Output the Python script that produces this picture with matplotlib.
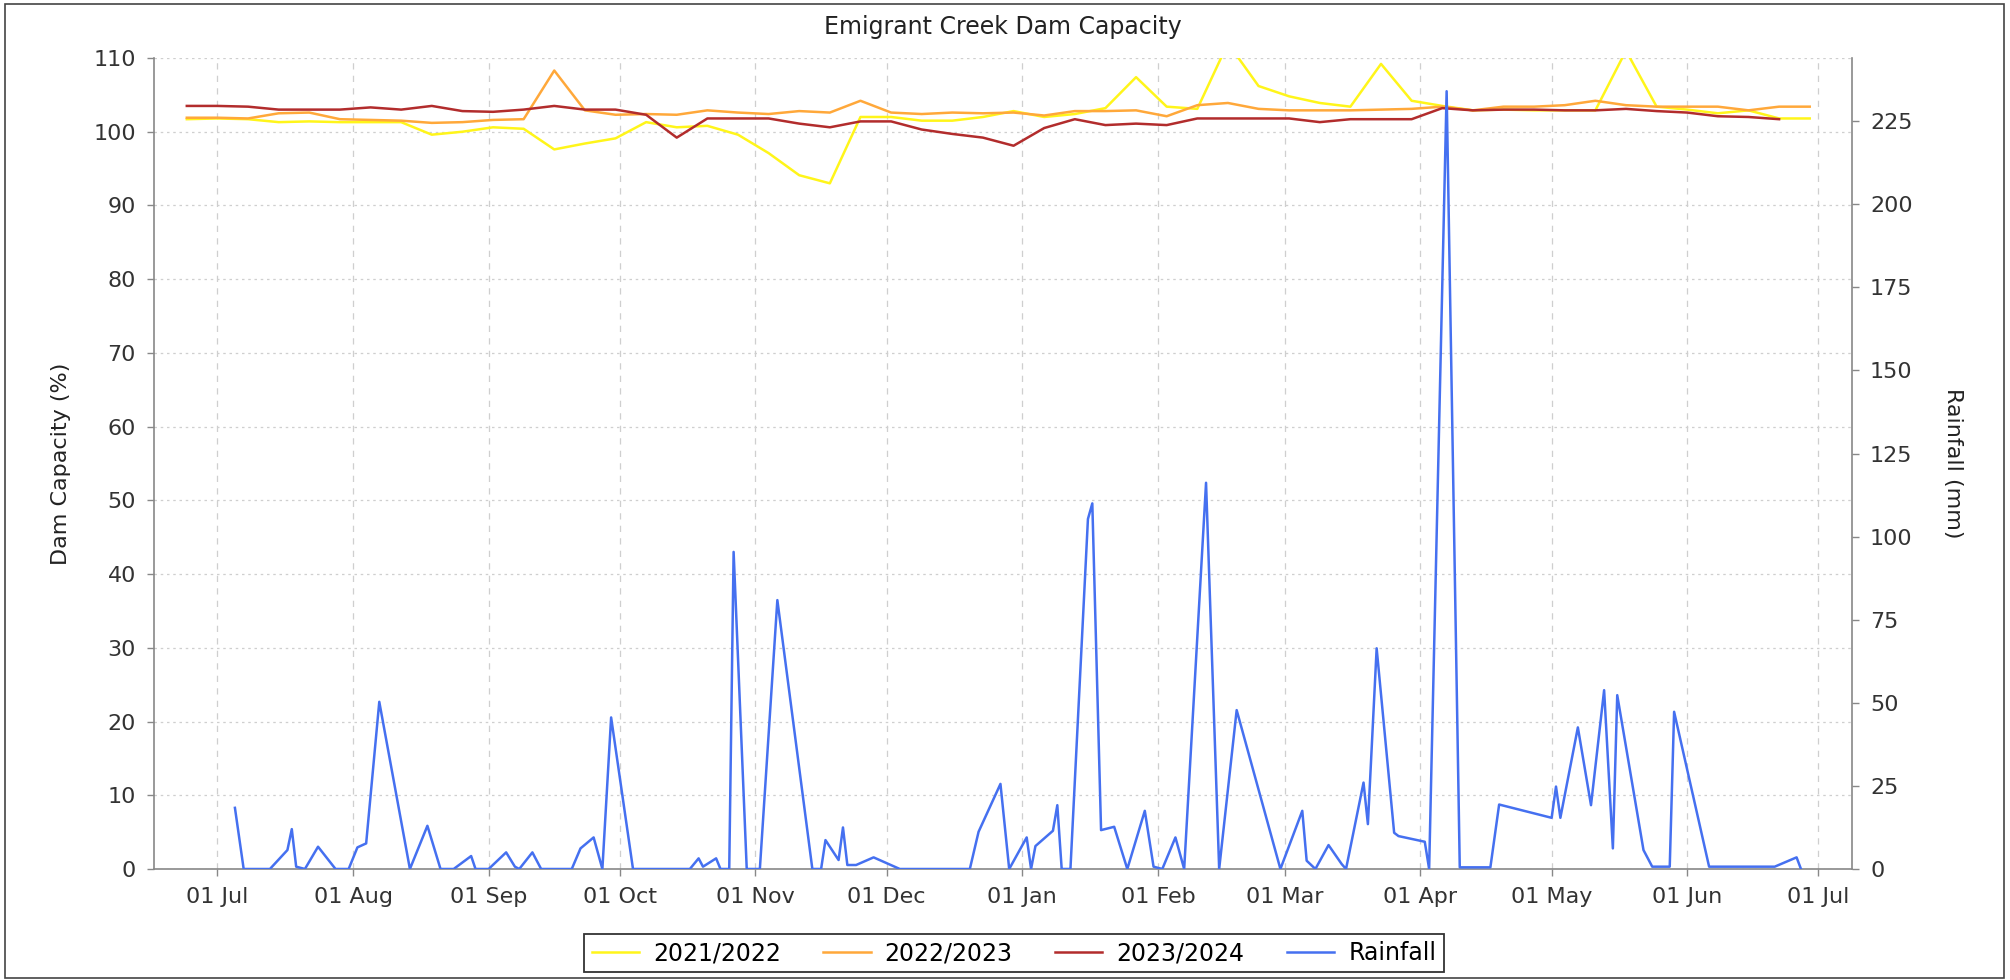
import pandas as pd
import matplotlib
matplotlib.use('Agg')
import matplotlib.pyplot as plt
import matplotlib.dates as mdates
from matplotlib.patches import Rectangle

plt.rcParams['font.family'] = ['DejaVu Sans']

# weekly dam capacity readings (%), first reading 24 Jun
week_start = '2023-06-24'
cap_2122 = [101.7, 101.8, 101.7, 101.3, 101.4, 101.3, 101.3, 101.3, 99.6, 100.0,
            100.6, 100.4, 97.6, 98.4, 99.1, 101.3, 100.6, 100.8, 99.6, 97.1,
            94.1, 93.0, 102.0, 102.0, 101.5, 101.5, 102.0, 102.8, 102.0, 102.4,
            103.2, 107.4, 103.4, 103.1, 112.0, 106.2, 104.8, 103.9, 103.4, 109.2,
            104.2, 103.5, 102.9, 103.0, 102.9, 102.9, 102.9, 111.0, 103.4, 103.0,
            102.5, 102.9, 101.8, 101.8]
cap_2223 = [101.9, 101.9, 101.8, 102.5, 102.6, 101.7, 101.6, 101.5, 101.2, 101.3,
            101.6, 101.7, 108.3, 102.9, 102.3, 102.4, 102.3, 102.9, 102.6, 102.4,
            102.8, 102.6, 104.2, 102.6, 102.4, 102.6, 102.5, 102.6, 102.2, 102.8,
            102.8, 102.9, 102.1, 103.6, 103.9, 103.1, 102.9, 102.9, 102.9, 103.0,
            103.1, 103.4, 102.9, 103.4, 103.4, 103.6, 104.2, 103.6, 103.4, 103.4,
            103.4, 102.9, 103.4, 103.4]
cap_2324 = [103.5, 103.5, 103.4, 103.0, 103.0, 103.0, 103.3, 103.0, 103.5, 102.8,
            102.7, 103.0, 103.5, 103.0, 103.0, 102.3, 99.2, 101.8, 101.8, 101.8,
            101.1, 100.6, 101.4, 101.4, 100.3, 99.7, 99.2, 98.1, 100.5, 101.7,
            100.9, 101.1, 100.9, 101.8, 101.8, 101.8, 101.8, 101.3, 101.7, 101.7,
            101.7, 103.2, 102.9, 103.0, 103.0, 102.9, 102.9, 103.1, 102.8, 102.6,
            102.1, 102.0, 101.7]

# rainfall (mm), days counted from 1 July
season_start = '2023-07-01'
rain_day = [4, 6, 12, 16, 17, 18, 20, 23, 27, 30,
            32, 34, 37, 44, 48, 51, 54, 58, 59, 62,
            66, 68, 69, 72, 74, 81, 83, 86, 88, 90,
            95, 108, 110, 111, 114, 115, 117, 118, 121, 124,
            128, 136, 138, 139, 142, 143, 144, 146, 150, 156,
            172, 174, 179, 181, 185, 186, 187, 191, 192, 193,
            195, 199, 200, 202, 205, 208, 212, 214, 216, 219,
            221, 226, 229, 233, 243, 248, 249, 251, 254, 257,
            258, 262, 263, 265, 269, 270, 276, 277, 281, 284,
            291, 293, 305, 306, 307, 311, 314, 317, 319, 320,
            326, 328, 332, 333, 341, 356, 361, 362]
rain_mm = [18.4, 0, 0, 5.7, 12.0, 0.7, 0, 6.7, 0, 0,
           6.5, 7.7, 50.3, 0, 13.0, 0, 0, 3.9, 0, 0,
           5.0, 0.7, 0, 5.0, 0, 0, 6.2, 9.5, 0, 45.6,
           0, 0, 3.2, 0.7, 3.2, 0, 0, 95.4, 0, 0,
           80.9, 0, 0, 8.7, 2.7, 12.5, 1.2, 1.2, 3.5, 0,
           0, 11.2, 25.6, 0, 9.5, 0, 6.9, 11.5, 19.2, 0,
           0, 105.3, 110.0, 11.7, 12.7, 0, 17.5, 0.7, 0, 9.5,
           0, 116.2, 0, 47.8, 0, 17.5, 2.5, 0, 7.2, 1.5,
           0, 26.0, 13.5, 66.4, 10.9, 9.9, 8.2, 0, 234.0, 0.5,
           0.5, 19.4, 15.4, 24.8, 15.4, 42.6, 19.2, 53.8, 6.2, 52.3,
           5.7, 0.7, 0.7, 47.3, 0.7, 0.7, 3.5, 0]

weeks = pd.date_range(week_start, periods=len(cap_2122), freq='7D')
rain_dates = pd.Timestamp(season_start) + pd.to_timedelta(rain_day, unit='D')

W, H = 2010, 980
fig = plt.figure(figsize=(W / 100, H / 100), dpi=100)
ax = fig.add_axes([154 / W, 1 - 869 / H, (1852 - 154) / W, (869 - 58) / H])
ax2 = ax.twinx()

ax.plot(weeks, cap_2122, color='#FFF51A', lw=1.8, label='2021/2022')
ax.plot(weeks, cap_2223, color='#FFA83A', lw=1.8, label='2022/2023')
ax.plot(weeks[:len(cap_2324)], cap_2324, color='#B22C2C', lw=1.8, label='2023/2024')
ax2.plot(rain_dates, rain_mm, color='#4570F0', lw=1.8, label='Rainfall')

ax.set_xlim(pd.Timestamp('2023-06-16 12:00'), pd.Timestamp('2024-07-08 16:00'))
ax.set_ylim(0, 110)
ax.set_yticks(range(0, 111, 10))
ax2.set_ylim(0, 244)
ax2.set_yticks(range(0, 226, 25))

ax.xaxis.set_major_locator(mdates.MonthLocator(bymonthday=1))
ax.xaxis.set_major_formatter(mdates.DateFormatter('%d %b'))

axis_col = '#888888'
for a in (ax, ax2):
    for s in a.spines.values():
        s.set_visible(False)
    a.tick_params(colors='#333333', labelsize=16, length=5, width=1, color=axis_col, pad=8)
ax.spines['left'].set_visible(True)
ax.spines['bottom'].set_visible(True)
ax2.spines['right'].set_visible(True)
for s in (ax.spines['left'], ax.spines['bottom'], ax2.spines['right']):
    s.set_color(axis_col)
    s.set_linewidth(1.2)

ax.grid(axis='y', color='#cfcfcf', ls=(0, (2, 3)), lw=0.9)
ax.grid(axis='x', color='#cfcfcf', ls=(0, (5, 5)), lw=0.9)
ax.set_axisbelow(True)

ax.set_title('Emigrant Creek Dam Capacity', fontsize=17, color='#222222', pad=17)
ax.set_ylabel('Dam Capacity (%)', fontsize=16, color='#222222', labelpad=16)
ax2.set_ylabel('Rainfall (mm)', fontsize=16, color='#222222', rotation=270, labelpad=36)

h1, l1 = ax.get_legend_handles_labels()
h2, l2 = ax2.get_legend_handles_labels()
leg = fig.legend(h1 + h2, l1 + l2, loc='center', bbox_to_anchor=(1014 / W, 1 - 953 / H),
                 ncol=4, fontsize=17, frameon=True, fancybox=False, handlelength=2.0,
                 handletextpad=0.6, columnspacing=1.8, borderpad=0.3)
leg.get_frame().set_edgecolor('black')
leg.get_frame().set_linewidth(1.3)

fig.patches.append(Rectangle((5 / W, 2 / H), (2004 - 5) / W, (976 - 2) / H,
                             transform=fig.transFigure, fill=False,
                             edgecolor='#444444', lw=1.2))

fig.savefig('out.png', dpi=100)
